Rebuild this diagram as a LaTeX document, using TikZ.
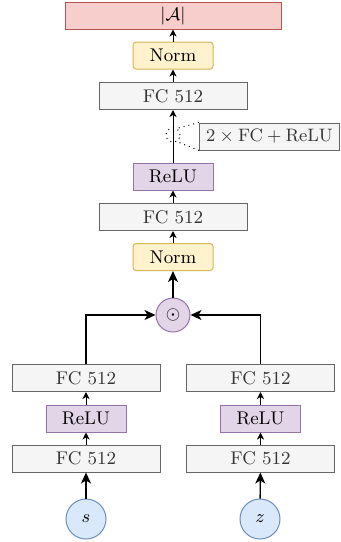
\documentclass[tikz,border=0pt]{standalone}
\usetikzlibrary{arrows.meta,calc}
\definecolor{redfill}{HTML}{F8CECC}
\definecolor{redline}{HTML}{B85450}
\definecolor{yelfill}{HTML}{FFF2CC}
\definecolor{yelline}{HTML}{D6B656}
\definecolor{grayfill}{HTML}{F5F5F5}
\definecolor{grayline}{HTML}{666666}
\definecolor{graytext}{HTML}{333333}
\definecolor{purfill}{HTML}{E1D5E7}
\definecolor{purline}{HTML}{9673A6}
\definecolor{bluefill}{HTML}{DAE8FC}
\definecolor{blueline}{HTML}{6C8EBF}
\begin{document}
\begin{tikzpicture}[x=0.5pt,y=-0.5pt, font=\fontsize{9.2}{11}\selectfont,
 box/.style={draw, line width=0.5pt, inner sep=0pt, minimum height=13.5pt},
 fc/.style={box, fill=grayfill, draw=grayline, text=graytext, minimum width=74pt},
 relu/.style={box, fill=purfill, draw=purline, minimum width=40pt},
 norm/.style={box, fill=yelfill, draw=yelline, minimum width=40pt, rounded corners=1.5pt},
 inp/.style={circle, fill=bluefill, draw=blueline, line width=0.5pt, minimum size=20pt, inner sep=0pt},
 sm/.style={-{Stealth[length=3.5pt,width=3.5pt,inset=1pt]}, line width=0.5pt},
 bg/.style={-{Stealth[length=5.5pt,width=5pt,inset=1.5pt]}, line width=0.7pt},
]
\useasboundingbox (0,0) rectangle (341,542);
\node[box, fill=redfill, draw=redline, minimum width=108pt] (A) at (173,15.5) {$|\mathcal{A}|$};
\node[norm] (n2) at (173,55.5) {Norm};
\node[fc] (f3) at (173,96) {FC 512};
\node[circle, draw, dotted, line width=0.5pt, inner sep=0pt, minimum size=7pt] (dc) at (173,135) {};
\node[box, fill=grayfill, draw=grayline, text=graytext, minimum width=70pt] (lab) at (269.5,136.5) {$2\times\mathrm{FC}+\mathrm{ReLU}$};
\node[relu] (r2) at (173,176.5) {ReLU};
\node[fc] (f2) at (173,217) {FC 512};
\node[norm] (n1) at (173,257) {Norm};
\node[circle, fill=purfill, draw=purline, line width=0.5pt, minimum size=17pt, inner sep=0pt] (odot) at (173,315) {$\odot$};
\node[fc] (fL2) at (86,378) {FC 512};
\node[relu] (rL) at (86,418.5) {ReLU};
\node[fc] (fL1) at (86,458.5) {FC 512};
\node[inp] (s) at (86,519) {$s$};
\node[fc] (fR2) at (260.5,378) {FC 512};
\node[relu] (rR) at (260.5,418.5) {ReLU};
\node[fc] (fR1) at (260.5,458.5) {FC 512};
\node[inp] (z) at (260,519) {$z$};
\draw[sm] (n2) -- (A);
\draw[sm] (f3) -- (n2);
\draw[sm] (r2) -- (f3);
\draw[sm] (f2) -- (r2);
\draw[sm] (n1) -- (f2);
\draw[bg] (odot) -- (n1);
\draw[bg] (fL2.north) |- (odot.west);
\draw[bg] (fR2.north) |- (odot.east);
\draw[sm] (fL1) -- (rL);
\draw[sm] (rL) -- (fL2);
\draw[bg] (s) -- (fL1);
\draw[sm] (fR1) -- (rR);
\draw[sm] (rR) -- (fR2);
\draw[bg] (z) -- (fR1);
\draw[dotted, line width=0.5pt] (lab.north west) -- (dc.60);
\draw[dotted, line width=0.5pt] (lab.south west) -- (dc.-60);
\end{tikzpicture}
\end{document}
